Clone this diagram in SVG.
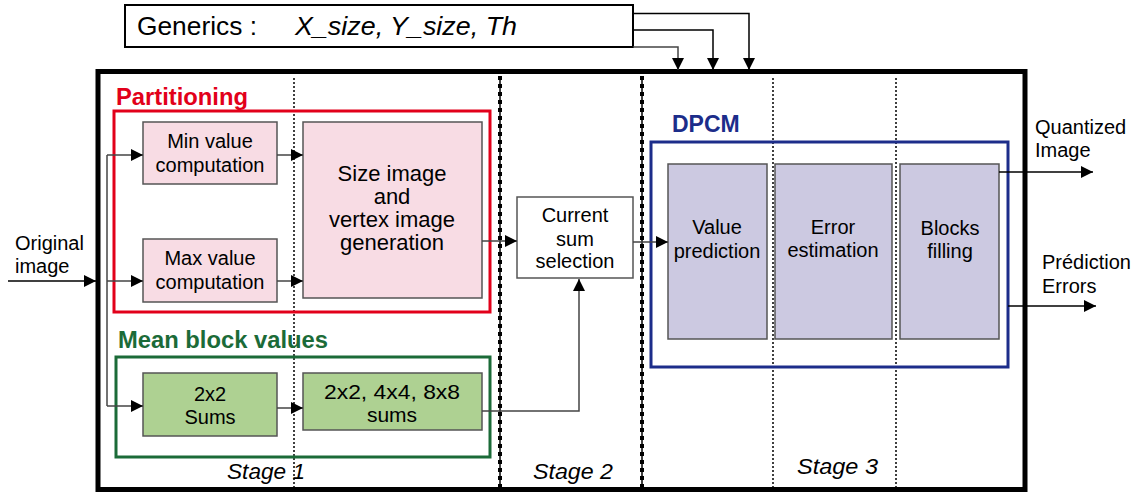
<svg xmlns="http://www.w3.org/2000/svg" width="1138" height="494" viewBox="0 0 1138 494">
<style>
text{font-family:"Liberation Sans",Arial,sans-serif;fill:#000}
.t{font-size:20px;text-anchor:middle}
.tl{font-size:22px;text-anchor:middle}
.tm{font-size:21px;text-anchor:middle}
.lbl{font-size:20px}
.stg{font-size:22px;font-style:italic}
.ttl{font-size:23px;font-weight:bold}
.box{stroke:#555;stroke-width:1.5}
.pink{fill:#f8dce4}
.green{fill:#aed192}
.lav{fill:#ccc9e1}
.wire{fill:none;stroke:#444;stroke-width:1.5}
.wk{fill:none;stroke:#000;stroke-width:1.5}
.thin{stroke:#000;stroke-width:1.5;stroke-dasharray:2 2}
.thick{stroke:#000;stroke-width:4;stroke-dasharray:4 4}
</style>
<defs>
<marker id="ah" markerWidth="12" markerHeight="12" viewBox="0 0 12 12" refX="12" refY="6" orient="auto" markerUnits="userSpaceOnUse">
<path d="M0,0 L12,6 L0,12 Z" fill="#000"/>
</marker>
</defs>
<rect width="1138" height="494" fill="#fff"/>

<g id="generics">
<rect x="125" y="5" width="508" height="42" fill="#fff" stroke="#000" stroke-width="2"/>
<text x="137" y="35" font-size="25" textLength="120" lengthAdjust="spacingAndGlyphs">Generics :</text>
<text x="295" y="35" font-size="25" font-style="italic" textLength="222" lengthAdjust="spacingAndGlyphs">X_size, Y_size, Th</text>
</g>

<g id="outer">
<rect x="98" y="71.5" width="927" height="418" fill="none" stroke="#000" stroke-width="5"/>
</g>

<g id="dividers">
<line x1="294" y1="78" x2="294" y2="487" class="thin"/>
<line x1="500" y1="76" x2="500" y2="487" stroke="#000" stroke-width="1.5"/>
<line x1="500" y1="76" x2="500" y2="487" class="thick"/>
<line x1="642" y1="76" x2="642" y2="487" stroke="#000" stroke-width="1.5"/>
<line x1="642" y1="76" x2="642" y2="487" class="thick"/>
<line x1="773" y1="78" x2="773" y2="487" class="thin"/>
<line x1="896" y1="78" x2="896" y2="487" class="thin"/>
</g>

<g id="partitioning">
<text x="116" y="105" class="ttl" style="fill:#e2001a" textLength="132" lengthAdjust="spacingAndGlyphs">Partitioning</text>
<rect x="114" y="111" width="376" height="201" fill="none" stroke="#e2001a" stroke-width="3"/>
</g>

<g id="min">
<rect x="143" y="122" width="134" height="62" class="box pink"/>
<text x="210" y="148" class="t">Min value</text>
<text x="210" y="172" class="t">computation</text>
</g>
<g id="max">
<rect x="143" y="239" width="134" height="63" class="box pink"/>
<text x="210" y="265" class="t">Max value</text>
<text x="210" y="289" class="t">computation</text>
</g>
<g id="sizeimg">
<rect x="303" y="122" width="179" height="176" class="box pink"/>
<text x="392" y="181" class="tl">Size image</text>
<text x="392" y="204" class="tl">and</text>
<text x="392" y="227" class="tl">vertex image</text>
<text x="392" y="250" class="tl">generation</text>
</g>

<g id="mean">
<text x="118" y="348" class="ttl" style="fill:#1b6b38" textLength="210" lengthAdjust="spacingAndGlyphs">Mean block values</text>
<rect x="116" y="357" width="374" height="100" fill="none" stroke="#1b6b38" stroke-width="3"/>
</g>
<g id="sums2">
<rect x="143" y="373" width="134" height="63" class="box green"/>
<text x="210" y="401" class="t">2x2</text>
<text x="210" y="424" class="t">Sums</text>
</g>
<g id="sums248">
<rect x="303" y="373" width="179" height="57" class="box green"/>
<text x="392" y="399" class="tm" textLength="136" lengthAdjust="spacingAndGlyphs">2x2, 4x4, 8x8</text>
<text x="392" y="422" class="tm">sums</text>
</g>

<g id="current">
<rect x="517" y="197" width="116" height="81" fill="#fff" class="box"/>
<text x="575" y="222" class="t">Current</text>
<text x="575" y="246" class="t">sum</text>
<text x="575" y="268" class="t">selection</text>
</g>

<g id="dpcm">
<text x="672" y="132" class="ttl" style="fill:#1c2d8a">DPCM</text>
<rect x="651" y="142" width="357" height="225" fill="none" stroke="#1c2d8a" stroke-width="3"/>
</g>
<g id="valpred">
<rect x="668" y="164" width="99" height="175" class="box lav"/>
<text x="717" y="234" class="t">Value</text>
<text x="717" y="258" class="t">prediction</text>
</g>
<g id="errest">
<rect x="775" y="164" width="117" height="175" class="box lav"/>
<text x="833" y="234" class="t">Error</text>
<text x="833" y="257" class="t">estimation</text>
</g>
<g id="blocks">
<rect x="900" y="164" width="99" height="175" class="box lav"/>
<text x="950" y="235" class="t">Blocks</text>
<text x="950" y="258" class="t">filling</text>
</g>

<g id="labels">
<text x="15" y="250" class="lbl">Original</text>
<text x="15" y="273" class="lbl">image</text>
<text x="1035" y="134" class="lbl">Quantized</text>
<text x="1035" y="157" class="lbl">Image</text>
<text x="1042" y="269" class="lbl">Prédiction</text>
<text x="1042" y="293" class="lbl">Errors</text>
<text x="227" y="479" class="stg" textLength="78" lengthAdjust="spacingAndGlyphs">Stage 1</text>
<text x="533" y="479" class="stg" textLength="80" lengthAdjust="spacingAndGlyphs">Stage 2</text>
<text x="797" y="474" class="stg" textLength="81" lengthAdjust="spacingAndGlyphs">Stage 3</text>
</g>

<g id="connectors">
<path d="M633,13.5 H749 V70" class="wk" marker-end="url(#ah)"/>
<path d="M633,30 H713 V70" class="wk" marker-end="url(#ah)"/>
<path d="M633,47 H678 V70" class="wire" marker-end="url(#ah)"/>
<path d="M8,281 H96" class="wk" marker-end="url(#ah)"/>
<path d="M107,155 V406" class="wire"/>
<path d="M107,155 H143" class="wire" marker-end="url(#ah)"/>
<path d="M107,281 H143" class="wire" marker-end="url(#ah)"/>
<path d="M107,406 H143" class="wire" marker-end="url(#ah)"/>
<path d="M277,155 H303" class="wire" marker-end="url(#ah)"/>
<path d="M277,281 H303" class="wire" marker-end="url(#ah)"/>
<path d="M277,408 H303" class="wire" marker-end="url(#ah)"/>
<path d="M482,241 H517" class="wire" marker-end="url(#ah)"/>
<path d="M482,411 H579 V279" class="wire" marker-end="url(#ah)"/>
<path d="M633,242 H668" class="wire" marker-end="url(#ah)"/>
<path d="M999,172 H1093" class="wk" marker-end="url(#ah)"/>
<path d="M1008,306 H1096" class="wk" marker-end="url(#ah)"/>
</g>
</svg>
